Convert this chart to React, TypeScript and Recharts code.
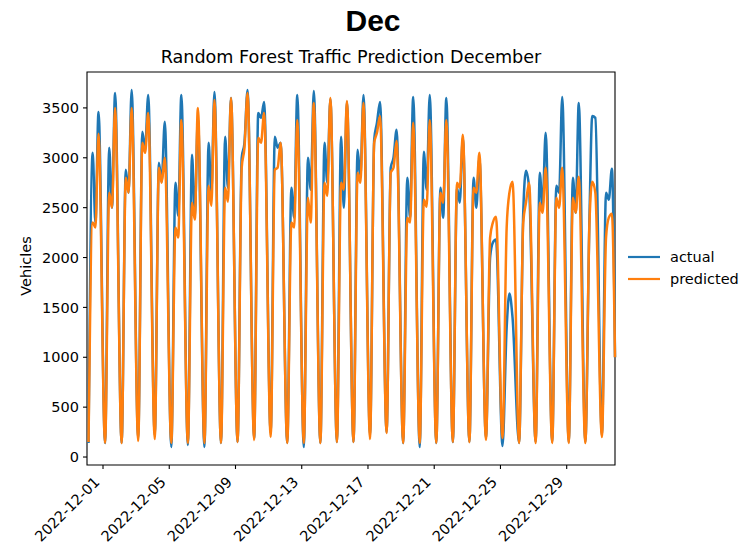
import React from 'react';
import { LineChart, Line, XAxis, YAxis, ReferenceArea } from 'recharts';

// one entry per day, Nov 30 .. Dec 31 (hourly readings summarised per day)
const days = [
  '2022-11-30', '2022-12-01', '2022-12-02', '2022-12-03', '2022-12-04', '2022-12-05', '2022-12-06', '2022-12-07',
  '2022-12-08', '2022-12-09', '2022-12-10', '2022-12-11', '2022-12-12', '2022-12-13', '2022-12-14', '2022-12-15',
  '2022-12-16', '2022-12-17', '2022-12-18', '2022-12-19', '2022-12-20', '2022-12-21', '2022-12-22', '2022-12-23',
  '2022-12-24', '2022-12-25', '2022-12-26', '2022-12-27', '2022-12-28', '2022-12-29', '2022-12-30', '2022-12-31',
];

// hour of day for each reading: night low, morning, midday, evening
const readingHours = [3, 9, 13, 17.5];

const actualNight = [140, 140, 140, 190, 220, 100, 120, 100, 140, 150, 190, 240, 140, 100, 140, 150, 150, 220, 250, 140, 100, 140, 150, 150, 190, 110, 140, 150, 150, 150, 150, 220];
const actualMorning = [3050, 3100, 2880, 3260, 2950, 2750, 3030, 3150, 3210, 3000, 3450, 3210, 2700, 3000, 3150, 3210, 3080, 3180, 2900, 2800, 3060, 2700, 2700, 2800, 2000, 1300, 2450, 2850, 2720, 2800, 2400, 2650];
const actualMidday = [2350, 2500, 2650, 3080, 2760, 2420, 2400, 2650, 2700, 3150, 3400, 3100, 2400, 2680, 2750, 2500, 2800, 3350, 3000, 2400, 2680, 2400, 2550, 2500, 2150, 1640, 2870, 2500, 2650, 2450, 3420, 2580];
const actualEvening = [3460, 3650, 3680, 3630, 3360, 3630, 3400, 3660, 3600, 3680, 3560, 3150, 3630, 3670, 3590, 3560, 3630, 3560, 3280, 3610, 3630, 3600, 3200, 3000, 2180, 1400, 2700, 3250, 3610, 3550, 3400, 2890];

const predictedNight = [150, 140, 140, 160, 180, 140, 140, 140, 140, 150, 170, 200, 140, 140, 140, 150, 150, 180, 240, 140, 140, 140, 150, 150, 170, 190, 140, 140, 140, 140, 140, 200];
const predictedMorning = [2350, 2650, 2800, 3150, 2900, 2300, 2550, 2720, 2700, 2900, 3200, 2880, 2350, 2600, 2750, 2750, 2850, 3150, 2850, 2400, 2580, 2650, 2750, 2700, 2200, 2300, 2350, 2550, 2600, 2600, 2350, 2200];
const predictedMidday = [2300, 2500, 2650, 3050, 2750, 2200, 2380, 2520, 2560, 3100, 3150, 2900, 2300, 2350, 2620, 2680, 2750, 3250, 2900, 2350, 2510, 2550, 2700, 2650, 2350, 2650, 2550, 2450, 2500, 2450, 2760, 2400];
const predictedEvening = [3240, 3500, 3500, 3450, 3000, 3380, 3500, 3580, 3600, 3650, 3450, 3150, 3380, 3550, 3600, 3570, 3550, 3420, 3170, 3350, 3380, 3380, 3230, 3050, 2410, 2760, 2750, 2900, 2900, 2810, 2650, 2440];

// last reading, Dec 31 22:00
const closingHour = 742;
const closingActual = 1000;
const closingPredicted = 1000;

// x is hours since 2022-12-01 00:00
const xDomain = [-23.2, 742];
const tickHours = [0, 96, 192, 288, 384, 480, 576, 672];
const tickLabels = ['2022-12-01', '2022-12-05', '2022-12-09', '2022-12-13', '2022-12-17', '2022-12-21', '2022-12-25', '2022-12-29'];
const yTicks = [0, 500, 1000, 1500, 2000, 2500, 3000, 3500];

const BLUE = '#1f77b4';
const ORANGE = '#ff7f0e';
const FONT = '"DejaVu Sans", sans-serif';

const actualSeries = [actualNight, actualMorning, actualMidday, actualEvening];
const predictedSeries = [predictedNight, predictedMorning, predictedMidday, predictedEvening];

const rows: { t: number; actual: number; predicted: number }[] = [];
days.forEach((_, d) => {
  readingHours.forEach((h, k) => {
    rows.push({ t: (d - 1) * 24 + h, actual: actualSeries[k][d], predicted: predictedSeries[k][d] });
  });
});
rows.push({ t: closingHour, actual: closingActual, predicted: closingPredicted });

const DateTick = ({ x, y, payload }: any) => {
  const label = tickLabels[tickHours.indexOf(payload.value)];
  const ax = x - 2.4;
  const ay = y + 12;
  return (
    <text
      x={ax}
      y={ay}
      transform={`rotate(-45 ${ax} ${ay})`}
      textAnchor="end"
      fontSize={14.5}
      fontFamily={FONT}
      fill="#000"
    >
      {label}
    </text>
  );
};

export default function App() {
  return (
    <div style={{ position: 'absolute', left: 0, top: 0, width: 743, height: 548, background: '#fff' }}>
      <LineChart width={743} height={548} data={rows} margin={{ top: 72, right: 128, bottom: 0, left: 0 }}>
        <XAxis
          dataKey="t"
          type="number"
          domain={xDomain}
          ticks={tickHours}
          interval={0}
          height={83}
          axisLine={false}
          tickLine={{ stroke: '#000', strokeWidth: 1.1 }}
          tickSize={4}
          tick={<DateTick />}
        />
        <YAxis
          type="number"
          domain={[-80, 3860]}
          ticks={yTicks}
          width={87}
          axisLine={false}
          tickLine={{ stroke: '#000', strokeWidth: 1.1 }}
          tickSize={4}
          tickMargin={4}
          tick={{ fontSize: 14.5, fontFamily: FONT, fill: '#000' }}
        />
        <ReferenceArea x1={xDomain[0]} x2={xDomain[1]} y1={-80} y2={3860} fill="none" stroke="#000" strokeWidth={1.1} />
        <Line type="monotone" dataKey="actual" stroke={BLUE} strokeWidth={2.5} dot={false} isAnimationActive={false} />
        <Line type="monotone" dataKey="predicted" stroke={ORANGE} strokeWidth={2.5} dot={false} isAnimationActive={false} />
      </LineChart>
      <svg width={743} height={548} style={{ position: 'absolute', left: 0, top: 0, pointerEvents: 'none' }}>
        <text x={373} y={31} textAnchor="middle" fontSize={30} fontWeight="bold" fontFamily='"Liberation Sans", Arial, sans-serif' fill="#000">
          Dec
        </text>
        <text x={351} y={63} textAnchor="middle" fontSize={17.6} fontFamily={FONT} fill="#000">
          Random Forest Traffic Prediction December
        </text>
        <text x={31} y={266} transform="rotate(-90 31 266)" textAnchor="middle" fontSize={14.5} fontFamily={FONT} fill="#000">
          Vehicles
        </text>
        <line x1={628} x2={660} y1={257} y2={257} stroke={BLUE} strokeWidth={2.2} />
        <text x={670} y={262} fontSize={14.5} fontFamily={FONT} fill="#000">actual</text>
        <line x1={628} x2={660} y1={279} y2={279} stroke={ORANGE} strokeWidth={2.2} />
        <text x={670} y={284} fontSize={14.5} fontFamily={FONT} fill="#000">predicted</text>
      </svg>
    </div>
  );
}
